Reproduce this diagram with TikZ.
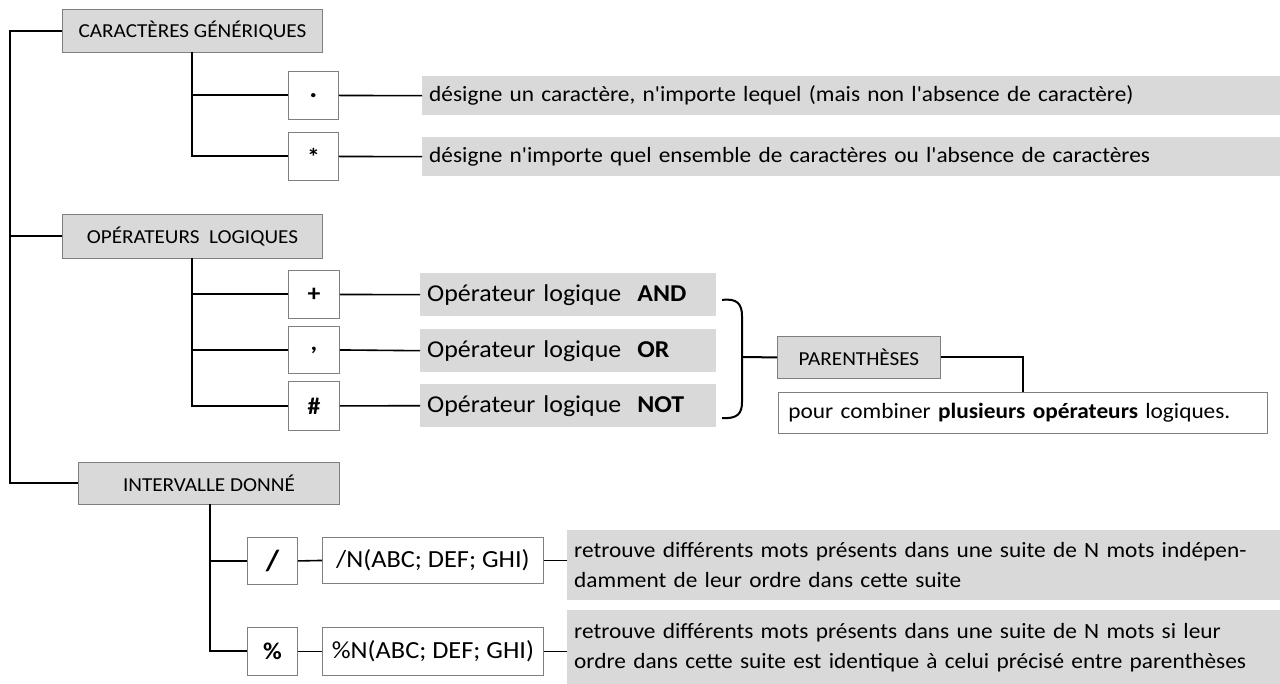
\documentclass[tikz,border=0pt]{standalone}
\usepackage{fontspec}
\setmainfont{Carlito}[FakeStretch=1.07, Ligatures=TeXOff]
\definecolor{boxgray}{HTML}{D9D9D9}
\definecolor{bordergray}{HTML}{7F7F7F}
\newcommand\dgBody{\fontsize{21.8}{30}\selectfont}
\newcommand\dgHdr{\fontsize{19.8}{22}\selectfont}
\newcommand\dgOp{\fontsize{24.2}{28}\selectfont}
\newcommand\dgSym{\fontsize{24}{28}\selectfont\bfseries}
\newcommand\dgMid{\fontsize{24.6}{28}\selectfont}
\begin{document}
\begin{tikzpicture}[x=1pt,y=-1pt,
  tree/.style={line width=2pt},
  conn/.style={line width=1.6pt},
  hdr/.style={draw=bordergray, fill=boxgray, line width=0.9pt, inner sep=0pt, anchor=north west, font=\dgHdr},
  sym/.style={draw=bordergray, fill=white, line width=0.9pt, inner sep=0pt, minimum width=50pt, minimum height=48pt, anchor=north west, font=\dgSym},
  wbox/.style={draw=bordergray, fill=white, line width=0.9pt, inner sep=0pt, anchor=north west},
  gtxt/.style={fill=boxgray, inner xsep=7pt, inner ysep=0pt, align=left, anchor=north west, font=\dgBody},
]
\fill[white] (0,0) rectangle (1280,684);
\useasboundingbox (0,0) rectangle (1280,684);

% headers
\node[hdr, minimum width=260pt, minimum height=43pt] (cg) at (62,9) {CARACTÈRES GÉNÉRIQUES};
\node[hdr, minimum width=260pt, minimum height=44pt] (ol) at (62,214) {OPÉRATEURS\ \ LOGIQUES};
\node[hdr, minimum width=261pt, minimum height=42pt] (iv) at (78,462) {INTERVALLE DONNÉ};

% root
\coordinate (r0) at (10,33);
\draw[tree] (cg.west) -- (cg.west -| r0) |- (iv.west);
\draw[tree] (ol.west) -- (ol.west -| r0);

% caracteres generiques
\node[sym, font=\fontsize{28}{30}\selectfont\bfseries] (dot) at (288,71) {.};
\node[sym] (star) at (288,132) {*};
\node[gtxt, text width=844pt, minimum height=39pt] (t1) at (422,76) {désigne un caractère, n'importe lequel (mais non l'absence de caractère)};
\node[gtxt, text width=844pt, minimum height=39pt] (t2) at (422,137) {désigne n'importe quel ensemble de caractères ou l'absence de caractères};
\coordinate (cgv) at (192,52);
\draw[tree] (cgv) |- (star.west);
\draw[tree] (dot.west) -- (dot.west -| cgv);
\draw[conn] (dot.east) -- (t1.west);
\draw[conn] (star.east) -- (t2.west);

% operateurs logiques
\node[sym, minimum width=51pt] (plus) at (288,270) {+};
\node[sym, minimum width=51pt, minimum height=47pt] (comma) at (288,326) {,};
\node[sym, minimum width=51pt, minimum height=49pt] (hash) at (288,381) {\#};
\node[gtxt, font=\dgOp, text width=282pt, minimum height=43pt] (and) at (420,273) {Opérateur logique\ \ \textbf{AND}};
\node[gtxt, font=\dgOp, text width=282pt, minimum height=43pt] (or) at (420,329) {Opérateur logique\ \ \textbf{OR}};
\node[gtxt, font=\dgOp, text width=282pt, minimum height=43pt] (not) at (420,384) {Opérateur logique\ \ \textbf{NOT}};
\coordinate (olv) at (192,258);
\draw[tree] (olv) |- (hash.west);
\draw[tree] (plus.west) -- (plus.west -| olv);
\draw[tree] (comma.west) -- (comma.west -| olv);
\draw[conn] (plus.east) -- (and.west);
\draw[conn] (comma.east) -- (or.west);
\draw[conn] (hash.east) -- (not.west);

% parentheses
\draw[tree] (722,300) .. controls (737,298) and (742,304) .. (742,316) -- (742,402) .. controls (742,414) and (737,419) .. (722,418);
\coordinate (bm) at (742,357);
\node[hdr, minimum width=163pt, minimum height=42pt] (par) at (777,336) {PARENTHÈSES};
\draw[tree] (bm) -- (par.west);
\node[wbox, inner xsep=10pt, minimum height=41pt, text width=469pt, align=left, font=\dgBody] (pour) at (778,392) {pour combiner \textbf{plusieurs opérateurs} logiques.};
\coordinate (pc) at (1023,392);
\draw[tree] (par.east) -| (pc);

% intervalle donne
\node[sym, minimum height=47pt, font=\fontsize{29}{32}\selectfont\bfseries] (slash) at (247,537) {/};
\node[sym] (pct) at (247,627) {\%};
\node[wbox, minimum width=221pt, minimum height=46pt, font=\dgMid] (sn) at (322,537) {/N(ABC; DEF; GHI)};
\node[wbox, minimum width=221pt, minimum height=48pt, font=\dgMid] (pn) at (322,627) {\%N(ABC; DEF; GHI)};
\node[gtxt, text width=699pt, minimum height=70pt] (g1) at (567,530) {retrouve différents mots présents dans une suite de N mots indépen-\\damment de leur ordre dans cette suite};
\node[gtxt, text width=699pt, minimum height=74pt] (g2) at (567,610) {retrouve différents mots présents dans une suite de N mots si leur\\ordre dans cette suite est identique à celui précisé entre parenthèses};
\coordinate (ivv) at (210,504);
\draw[tree] (ivv) |- (pct.west);
\draw[tree] (slash.west) -- (slash.west -| ivv);
\draw[conn] (slash.east) -- (sn.west);
\draw[conn] (pct.east) -- (pn.west);
\draw[conn] (sn.east) -- (sn.east -| g1.west);
\draw[conn] (pn.east) -- (pn.east -| g2.west);
\end{tikzpicture}
\end{document}
